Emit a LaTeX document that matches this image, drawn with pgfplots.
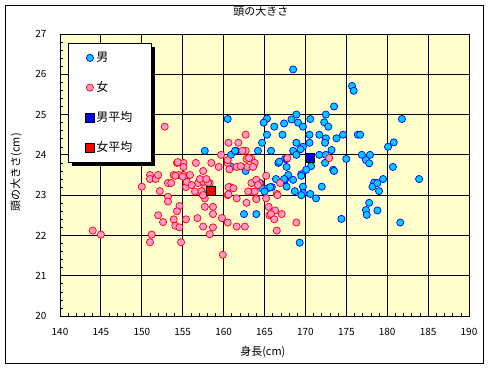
\documentclass[border=0pt]{standalone}
\usepackage{pgfplots}
\pgfplotsset{compat=1.18}
\usepackage{fontspec}
\setmainfont{Noto Sans CJK JP}
\usetikzlibrary{shadows}
\definecolor{bgyellow}{RGB}{255,255,204}
\definecolor{mfill}{RGB}{0,204,255}
\definecolor{medge}{RGB}{0,0,255}
\definecolor{ffill}{RGB}{255,153,204}
\definecolor{fedge}{RGB}{255,0,0}
\begin{document}
\begin{tikzpicture}
\path[use as bounding box] (-60bp,-54bp) rectangle (429bp,316bp);
\draw[black,line width=0.8bp] (-55bp,-47bp) rectangle (423bp,311bp);
\begin{axis}[
  scale only axis,
  width=409bp, height=282bp,
  at={(0,0)}, anchor=south west,
  xmin=140, xmax=190, ymin=20, ymax=27,
  xtick={140,145,...,190}, ytick={20,21,...,27},
  minor x tick num=4, minor y tick num=4,
  xtick pos=left, ytick pos=left,
  tick align=inside,
  major tick length=0bp, minor tick length=3bp,
  every tick/.style={black,line width=0.6bp},
  grid=major,
  major grid style={black,line width=0.9bp},
  axis line style={black,line width=0.9bp},
  axis background/.style={fill=bgyellow},
  /pgf/number format/assume math mode=true,
  tick label style={font=\fontsize{10}{12}\selectfont},
  xticklabel style={yshift=-9bp},
  yticklabel style={xshift=-10bp},
  title={頭の大きさ},
  title style={at={(axis description cs:0.491,1.0603)},anchor=center,font=\fontsize{11}{13}\selectfont},
  xlabel={身長(cm)},
  xlabel style={at={(axis description cs:0.496,-0.1277)},anchor=center,font=\fontsize{11}{13}\selectfont},
  ylabel={頭の大きさ(cm)},
  ylabel style={at={(axis description cs:-0.1076,0.51)},anchor=center,font=\fontsize{11}{13}\selectfont},
  legend style={
    at={(axis description cs:0.0196,0.968)}, anchor=north west,
    draw=black, line width=0.8bp, fill=white,
    inner xsep=17bp, inner ysep=7bp,
    row sep=14.5bp,
    font=\fontsize{12}{14}\selectfont,
    drop shadow={shadow xshift=3.5bp, shadow yshift=-3.5bp, fill=black, opacity=1},
    legend cell align=left,
  },
]
\addplot[only marks, mark=*, mark size=3.6bp, mark options={fill=mfill, draw=medge, line width=0.7bp}] coordinates {
(168.5,26.12) (175.7,25.71) (175.9,25.59) (173.5,25.2) (168.9,25.0) (172.5,25.0)
(165.3,24.9) (164.9,24.8) (168.3,24.88) (169.1,24.8) (170.6,24.89) (172.3,24.81)
(166.2,24.7) (167.4,24.78) (169.7,24.7) (172.8,24.7)
(165.3,24.5) (167.2,24.5) (170.5,24.5) (171.7,24.5) (172.5,24.41) (173.8,24.41)
(174.6,24.5) (176.4,24.5) (164.7,24.3) (168.9,24.3) (170.5,24.3) (172.4,24.3)
(173.2,24.12) (169.7,24.2) (168.5,24.1) (168.9,24.0) (167.5,23.9) (171.7,24.0)
(175.0,23.9) (176.9,24.0) (177.9,24.0) (177.4,23.87) (177.8,23.79) (172.4,23.8)
(173.4,23.63) (170.7,23.72) (170.1,23.63) (169.5,23.52) (167.9,23.5) (167.5,23.38)
(168.5,23.38) (167.7,23.21) (168.7,23.1) (169.7,23.21) (169.7,23.05) (170.6,23.03)
(172.0,23.21) (171.3,22.92) (179.5,23.4) (178.4,23.31) (178.2,23.21) (179.0,23.1)
(180.1,24.2) (181.8,24.89) (180.8,24.31) (180.7,23.7) (183.9,23.4) (177.8,22.81)
(177.4,22.63) (177.5,22.51) (178.8,22.62) (181.6,22.32) (174.4,22.41) (169.3,21.82)
(164.0,22.53) (162.5,22.53) (157.7,24.1) (160.5,24.89) (160.9,24.0) (161.5,24.1)
(161.0,23.7) (162.7,23.6) (161.4,24.1) (164.2,24.1) (166.7,23.8) (167.7,23.9)
(167.7,23.7) (166.4,23.4) (167.4,23.4) (164.5,23.3) (164.7,23.17) (165.4,23.17)
(165.9,23.2) (165.0,23.09) (165.8,24.1) (169.4,24.14) (172.5,24.0) (166.8,23.83)
(169.5,23.48) (169.5,23.0) (165.7,23.2) (173.5,23.6) (176.7,24.5) (178.8,23.3)
};
\addlegendentry{男}
\addplot[only marks, mark=*, mark size=3.6bp, mark options={fill=ffill, draw=fedge, line width=0.7bp}] coordinates {
(144.0,22.12) (145.0,22.02) (150.0,23.21) (151.0,23.5) (151.0,23.4) (151.7,23.4)
(152.0,23.5) (152.2,23.1) (153.2,23.3) (153.6,23.3) (153.9,23.5) (154.3,23.8)
(155.1,23.8) (155.1,23.7) (155.1,23.5) (154.5,23.5) (155.4,23.4) (155.4,23.2)
(153.2,22.96) (153.2,22.84) (154.6,22.73) (154.3,22.6) (152.0,22.5) (152.6,22.33)
(153.9,22.4) (154.1,22.24) (154.6,22.2) (155.4,22.4) (151.2,22.02) (151.0,21.83)
(154.8,21.83) (152.8,24.7) (156.8,22.43) (157.5,22.22) (158.3,22.03) (158.7,22.2)
(159.8,22.43) (160.5,22.32) (158.7,22.53) (157.7,22.71) (158.7,22.71) (157.7,22.92)
(157.4,23.02) (156.5,23.09) (156.9,23.3) (158.3,23.3) (160.8,23.2) (160.5,23.0)
(161.6,22.92) (162.8,22.81) (163.1,23.09) (163.8,23.09) (164.0,22.92) (163.4,23.3)
(164.4,23.3) (165.2,22.92) (165.6,22.5) (161.6,22.22) (162.6,22.22) (159.9,21.52)
(162.7,24.5) (160.6,24.3) (161.8,24.3) (162.7,24.1) (159.7,24.0) (160.5,23.8)
(156.6,23.8) (158.5,23.8) (159.4,23.7) (157.5,23.6) (161.6,23.7) (162.8,23.9)
(163.4,23.9) (163.8,23.8) (162.9,23.7) (163.6,23.7) (165.2,23.48) (155.9,23.5)
(155.5,23.33) (156.1,23.25) (157.5,23.33) (158.1,23.3) (157.7,23.17) (160.6,23.2)
(161.2,23.17) (164.0,23.38) (164.2,23.25) (163.0,23.09) (166.9,23.3) (166.5,23.03)
(160.6,23.02) (154.4,23.82) (154.1,23.48) (155.0,23.46) (157.1,23.4) (157.9,23.4)
(157.3,23.1) (157.5,23.0) (166.6,23.0) (164.0,22.9) (165.5,22.71) (166.3,22.62)
(165.8,22.53) (167.1,22.53) (166.2,22.4) (168.9,22.32) (166.5,22.12) (167.8,23.92)
(172.9,23.92) (162.1,23.72) (163.1,23.92) (160.5,23.87) (160.7,23.64) (162.3,24.1)
};
\addlegendentry{女}
\addplot[only marks, mark=square*, mark size=4.5bp, mark options={fill=medge, draw=black, line width=0.7bp}] coordinates {(170.6,23.92)};
\addlegendentry{男平均}
\addplot[only marks, mark=square*, mark size=4.5bp, mark options={fill=fedge, draw=black, line width=0.7bp}] coordinates {(158.5,23.1)};
\addlegendentry{女平均}
\end{axis}
\end{tikzpicture}
\end{document}
